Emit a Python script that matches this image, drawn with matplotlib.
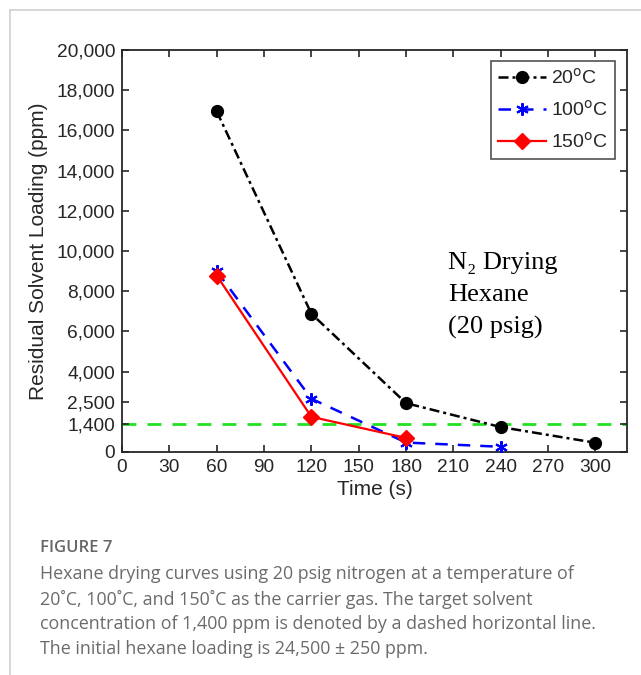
import matplotlib.pyplot as plt
from matplotlib.lines import Line2D

# data
time_s = [60, 120, 180, 240, 300]
t20 = [16950, 6880, 2430, 1240, 460]
time_100 = [60, 120, 180, 240]
t100 = [9000, 2650, 470, 260]
time_150 = [60, 120, 180]
t150 = [8780, 1750, 700]
target = 1400

yticks = [0, 1400, 2500, 4000, 6000, 8000, 10000, 12000, 14000, 16000, 18000, 20000]
xticks = [0, 30, 60, 90, 120, 150, 180, 210, 240, 270, 300]

caption = ("Hexane drying curves using 20 psig nitrogen at a temperature of\n"
           "20\u02daC, 100\u02daC, and 150\u02daC as the carrier gas. The target solvent\n"
           "concentration of 1,400 ppm is denoted by a dashed horizontal line.\n"
           "The initial hexane loading is 24,500 \u00b1 250 ppm.")

plt.rcParams['font.family'] = ['Liberation Sans', 'DejaVu Sans']
tc = '#262626'

fig = plt.figure(figsize=(6.41, 6.75), dpi=100)
ax = fig.add_axes([122/641, 1-452/675, 505/641, 402/675])

ax.axhline(target, color='#22e022', ls=(0, (5, 4)), lw=2, zorder=1)
ax.plot(time_s, t20, color='black', ls=(0, (4, 1.6, 1.2, 1.6)), lw=1.8, marker='o', ms=8.5,
        label='20$^{\\rm o}$C', zorder=3)
ax.plot(time_100, t100, color='blue', ls=(0, (5, 4)), lw=1.8, marker=(6, 2, 0), ms=9, mew=1.5,
        label='100$^{\\rm o}$C', zorder=3)
ax.plot(time_150, t150, color='red', ls='-', lw=1.6, marker='D', ms=8, label='150$^{\\rm o}$C', zorder=4)

ax.set_xlim(0, 320)
ax.set_ylim(0, 20000)
ax.set_xticks(xticks)
ax.set_yticks(yticks)
ax.set_yticklabels([f'{v:,}' for v in yticks])
ax.tick_params(direction='in', length=5, width=1.2, top=True, right=True, labelsize=13.8, colors=tc, pad=5)
for s in ax.spines.values():
    s.set_linewidth(1.3)
    s.set_color(tc)

ax.set_xlabel('Time (s)', fontsize=15, color=tc, labelpad=3)
ax.set_ylabel('Residual Solvent Loading (ppm)', fontsize=15, color=tc, labelpad=6)

leg = ax.legend(loc='upper right', bbox_to_anchor=(0.976, 0.973), fontsize=14, frameon=True,
                fancybox=False, edgecolor=tc, handlelength=2.5, borderpad=0.35,
                labelspacing=0.62, handletextpad=0.25, borderaxespad=0)
leg.get_frame().set_linewidth(1.2)
for t in leg.get_texts():
    t.set_color(tc)

ax.text(0.645, 0.497, 'N\u2082 Drying\nHexane\n(20 psig)', transform=ax.transAxes,
        family=['Liberation Serif', 'DejaVu Serif'], fontsize=19, va='top', ha='left', linespacing=1.58)

# caption below the chart
fig.text(40/641, 1-548/675, 'FIGURE 7', family='Open Sans', fontsize=12, weight='semibold',
         color='#666666', va='center', ha='left')
fig.text(40/641, 1-565/675, caption, family='Open Sans', fontsize=12.9, color='#6b6b6b',
         va='top', ha='left', linespacing=1.46)

# light frame lines at the top and left edge
fig.add_artist(Line2D([9.5/641, 1], [1-9.5/675, 1-9.5/675], color='#d0d0d0', lw=1.2))
fig.add_artist(Line2D([9.5/641, 9.5/641], [0, 1-9.5/675], color='#d0d0d0', lw=1.2))

fig.savefig('out.png', dpi=100)
